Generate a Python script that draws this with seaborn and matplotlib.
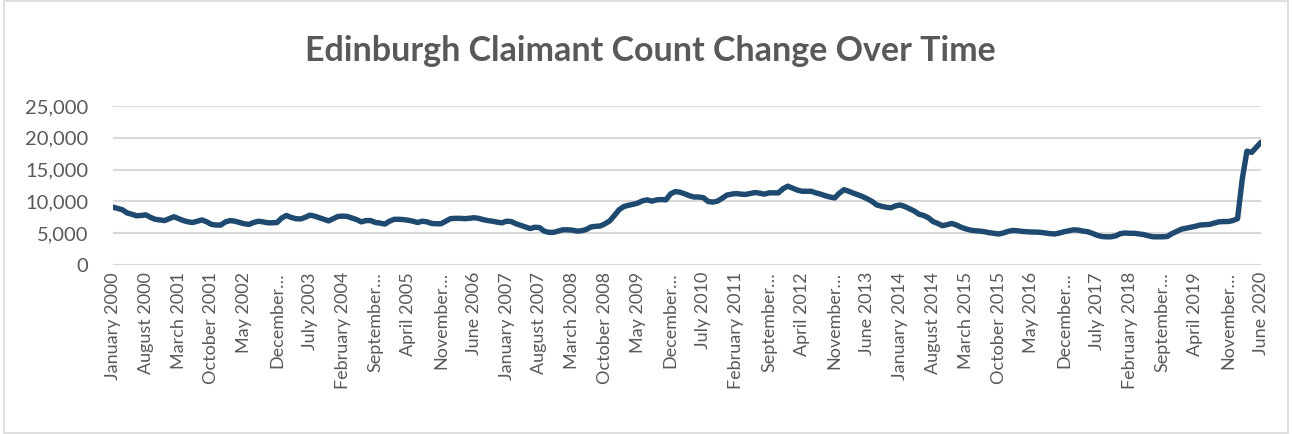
import pandas as pd
import seaborn as sns
import matplotlib.pyplot as plt
from matplotlib.patches import Rectangle

# Monthly claimant counts, January 2000 - June 2020
counts_2000_2004 = [
	9100, 8900, 8700, 8200, 8000, 7750, 7800, 7900, 7500, 7200, 7100, 7000,
	7300, 7600, 7300, 7000, 6800, 6700, 6900, 7100, 6800, 6400, 6300, 6300,
	6800, 7000, 6900, 6700, 6500, 6400, 6700, 6900, 6800, 6650, 6650, 6700,
	7400, 7800, 7500, 7300, 7250, 7500, 7850, 7700, 7450, 7200, 6950, 7300,
	7650, 7700, 7650, 7400, 7150, 6800, 7000, 7000, 6700, 6600, 6450, 6900,
]
counts_2005_2009 = [
	7200, 7200, 7150, 7050, 6900, 6700, 6900, 6800, 6550, 6500, 6500, 6900,
	7300, 7350, 7350, 7300, 7350, 7450, 7350, 7150, 7000, 6900, 6750, 6650,
	6900, 6850, 6500, 6250, 6000, 5750, 5950, 5900, 5350, 5150, 5150, 5350,
	5550, 5550, 5500, 5350, 5400, 5600, 6000, 6100, 6150, 6500, 6950, 7800,
	8700, 9200, 9400, 9550, 9750, 10100, 10250, 10050, 10250, 10300, 10250, 11200,
]
counts_2010_2014 = [
	11550, 11450, 11200, 10900, 10700, 10700, 10600, 10000, 9900, 10050, 10500, 11000,
	11150, 11250, 11150, 11100, 11250, 11400, 11300, 11150, 11350, 11350, 11350, 12000,
	12400, 12100, 11800, 11600, 11600, 11600, 11350, 11150, 10900, 10700, 10550, 11300,
	11850, 11600, 11300, 11050, 10750, 10400, 10000, 9450, 9250, 9100, 9000, 9300,
	9450, 9200, 8850, 8500, 8000, 7800, 7450, 6850, 6550, 6200, 6350, 6550,
]
counts_2015_2020 = [
	6300, 5950, 5700, 5500, 5400, 5350, 5250, 5100, 5000, 4900, 5050, 5300,
	5450, 5400, 5300, 5250, 5200, 5200, 5150, 5050, 4950, 4900, 5050, 5250,
	5400, 5550, 5500, 5350, 5250, 5000, 4700, 4500, 4450, 4450, 4600, 4950,
	5050, 5000, 5000, 4900, 4800, 4600, 4450, 4450, 4450, 4500, 4950, 5300,
	5650, 5800, 5950, 6100, 6300, 6350, 6400, 6600, 6800, 6850, 6850, 7000,
	7300, 13500, 17900, 17700, 18500, 19300,
]

# Category tick labels, every 7th month, as Excel shows them (long ones cut short)
tick_labels = [
	"January 2000", "August 2000", "March 2001", "October 2001", "May 2002",
	"December\u2026", "July 2003", "February 2004", "September\u2026", "April 2005",
	"November\u2026", "June 2006", "January 2007", "August 2007", "March 2008",
	"October 2008", "May 2009", "December\u2026", "July 2010", "February 2011",
	"September\u2026", "April 2012", "November\u2026", "June 2013", "January 2014",
	"August 2014", "March 2015", "October 2015", "May 2016", "December\u2026",
	"July 2017", "February 2018", "September\u2026", "April 2019", "November\u2026",
	"June 2020",
]
y_ticks = [0, 5000, 10000, 15000, 20000, 25000]

counts = counts_2000_2004 + counts_2005_2009 + counts_2010_2014 + counts_2015_2020
df = pd.DataFrame({"month": range(len(counts)), "count": counts})

sns.set_theme(style="white")
plt.rcParams['font.family'] = ['Lato', 'DejaVu Sans']

grey = "#595959"
fig = plt.figure(figsize=(12.92, 4.34), dpi=100)
ax = fig.add_axes([0.0875, 0.389, 0.8885, 0.367])

sns.lineplot(data=df, x="month", y="count", ax=ax, color="#1d4a6e", linewidth=3.9)

ax.set_xlim(0, len(counts) - 1)
ax.set_ylim(0, 25000)
ax.set_yticks(y_ticks)
ax.set_yticklabels([f"{v:,}" for v in y_ticks], color=grey, fontsize=14.5)
ax.set_xticks(range(0, len(counts), 7))
ax.set_xticklabels(tick_labels, rotation=90, color=grey, fontsize=13, va="top")
ax.tick_params(axis="x", length=0, pad=5)
ax.tick_params(axis="y", length=0, pad=18)
ax.set_xlabel("")
ax.set_ylabel("")
ax.grid(axis="y", color="#d9d9d9", linewidth=1.5)
ax.set_axisbelow(True)
for s in ax.spines.values():
	s.set_visible(False)

fig.text(0.503, 0.883, "Edinburgh Claimant Count Change Over Time", ha="center", va="center",
	fontsize=24.5, fontweight="bold", color=grey)

# light chart-area border like Excel
fig.patches.append(Rectangle((0.003, 0.003), 0.994, 0.994, transform=fig.transFigure,
	fill=False, edgecolor="#d9d9d9", linewidth=1.2))

plt.savefig("out.png", dpi=100)
